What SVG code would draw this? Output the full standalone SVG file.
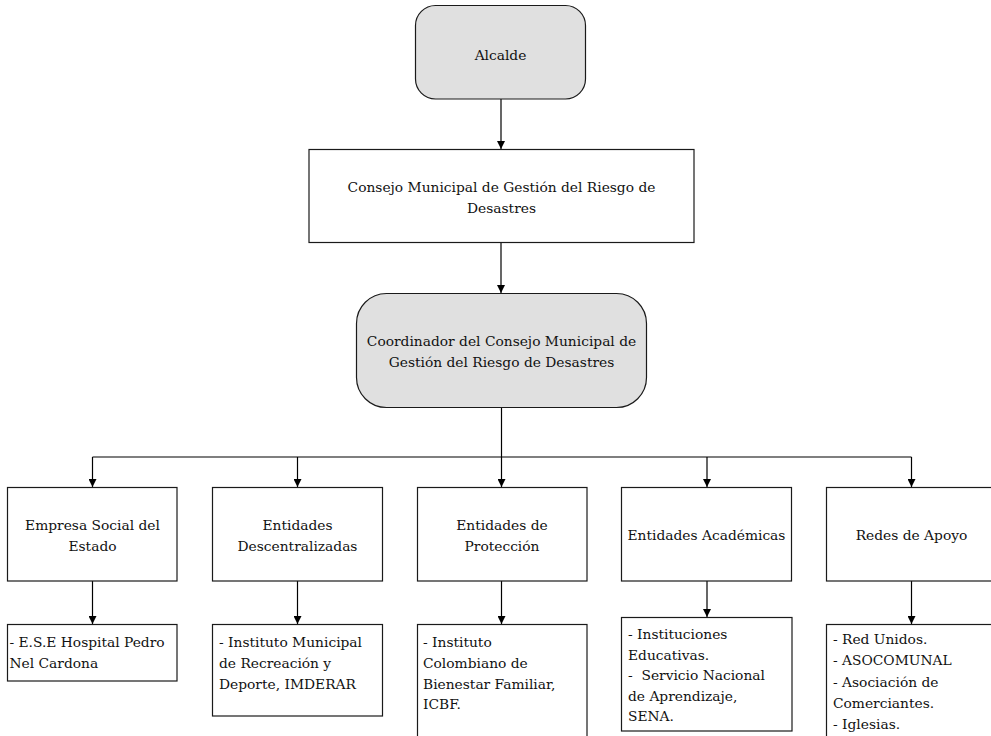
<svg xmlns="http://www.w3.org/2000/svg" width="991" height="736" viewBox="0 0 991 736">
  <defs>
    <marker id="arrow" viewBox="0 0 10 10" refX="10" refY="5" markerWidth="8" markerHeight="8" markerUnits="userSpaceOnUse" orient="auto">
      <path d="M0,0 L10,5 L0,10 Z" fill="#000"/>
    </marker>
  </defs>
  <style>
    .box { fill: #ffffff; stroke: #1a1a1a; stroke-width: 1.2; }
    .head { fill: #e0e0e0; stroke: #1a1a1a; stroke-width: 1.2; }
    text { font-family: "DejaVu Serif", serif; font-size: 13.8px; fill: #111; }
    .c { text-anchor: middle; }
    .pre { white-space: pre; }
    .link { fill: none; stroke: #000; stroke-width: 1.2; }
  </style>
  <rect width="991" height="736" fill="#ffffff"/>

  <!-- connectors -->
  <g id="connectors">
    <line class="link" x1="501" y1="99" x2="501" y2="149" marker-end="url(#arrow)"/>
    <line class="link" x1="501" y1="243" x2="501" y2="293" marker-end="url(#arrow)"/>
    <line class="link" x1="501.5" y1="408" x2="501.5" y2="457"/>
    <line class="link" x1="92.5" y1="457" x2="911.5" y2="457"/>
    <line class="link" x1="92.5" y1="457" x2="92.5" y2="487" marker-end="url(#arrow)"/>
    <line class="link" x1="297.5" y1="457" x2="297.5" y2="487" marker-end="url(#arrow)"/>
    <line class="link" x1="501.5" y1="457" x2="501.5" y2="487" marker-end="url(#arrow)"/>
    <line class="link" x1="707" y1="457" x2="707" y2="487" marker-end="url(#arrow)"/>
    <line class="link" x1="911.5" y1="457" x2="911.5" y2="487" marker-end="url(#arrow)"/>
    <line class="link" x1="92.5" y1="581" x2="92.5" y2="624" marker-end="url(#arrow)"/>
    <line class="link" x1="297.5" y1="581" x2="297.5" y2="624" marker-end="url(#arrow)"/>
    <line class="link" x1="501.5" y1="581" x2="501.5" y2="624" marker-end="url(#arrow)"/>
    <line class="link" x1="707" y1="581" x2="707" y2="617" marker-end="url(#arrow)"/>
    <line class="link" x1="911.5" y1="581" x2="911.5" y2="624" marker-end="url(#arrow)"/>
  </g>

  <!-- top of the hierarchy -->
  <g id="alcalde">
    <rect class="head" x="415.5" y="5.5" width="170" height="93.5" rx="20" ry="20"/>
    <text class="c" x="500.5" y="59.5">Alcalde</text>
  </g>

  <g id="consejo">
    <rect class="box" x="309" y="149.5" width="385" height="93"/>
    <text class="c" x="501.5" y="191.5">Consejo Municipal de Gestión del Riesgo de</text>
    <text class="c" x="501.5" y="212.5">Desastres</text>
  </g>

  <g id="coordinador">
    <rect class="head" x="356.5" y="293.5" width="290" height="114" rx="30" ry="30"/>
    <text class="c" x="501.5" y="345.5">Coordinador del Consejo Municipal de</text>
    <text class="c" x="501.5" y="366.5">Gestión del Riesgo de Desastres</text>
  </g>

  <!-- entity groups -->
  <g id="empresa-social">
    <rect class="box" x="7.5" y="487.5" width="169.5" height="93.5"/>
    <text class="c" x="92.5" y="529.5">Empresa Social del</text>
    <text class="c" x="92.5" y="550.5">Estado</text>
  </g>

  <g id="entidades-descentralizadas">
    <rect class="box" x="212.5" y="487.5" width="170" height="93.5"/>
    <text class="c" x="297.5" y="529.5">Entidades</text>
    <text class="c" x="297.5" y="550.5">Descentralizadas</text>
  </g>

  <g id="entidades-proteccion">
    <rect class="box" x="417.5" y="487.5" width="169.5" height="93.5"/>
    <text class="c" x="502" y="529.5">Entidades de</text>
    <text class="c" x="502" y="550.5">Protección</text>
  </g>

  <g id="entidades-academicas">
    <rect class="box" x="621.5" y="487.5" width="170" height="93.5"/>
    <text class="c" x="706.5" y="540">Entidades Académicas</text>
  </g>

  <g id="redes-apoyo">
    <rect class="box" x="826.5" y="487.5" width="170" height="93.5"/>
    <text class="c" x="911.5" y="540">Redes de Apoyo</text>
  </g>

  <!-- member lists -->
  <g id="ese-hospital">
    <rect class="box" x="7.5" y="624.5" width="169.5" height="56.5"/>
    <text x="9.5" y="647">- E.S.E Hospital Pedro</text>
    <text x="9.5" y="668">Nel Cardona</text>
  </g>

  <g id="imderar">
    <rect class="box" x="212.5" y="624.5" width="170" height="91.5"/>
    <text x="219" y="646.5">- Instituto Municipal</text>
    <text x="219" y="667.5">de Recreación y</text>
    <text x="219" y="688.5">Deporte, IMDERAR</text>
  </g>

  <g id="icbf">
    <rect class="box" x="417.5" y="624.5" width="169.5" height="130"/>
    <text x="423" y="646.5">- Instituto</text>
    <text x="423" y="667.5">Colombiano de</text>
    <text x="423" y="688.5">Bienestar Familiar,</text>
    <text x="423" y="709">ICBF.</text>
  </g>

  <g id="academicas-lista">
    <rect class="box" x="621.5" y="617.5" width="170.5" height="113.5"/>
    <text x="628" y="638.5">- Instituciones</text>
    <text x="628" y="659.5">Educativas.</text>
    <text class="pre" x="628" y="680">-  Servicio Nacional</text>
    <text x="628" y="700.5">de Aprendizaje,</text>
    <text x="628" y="721">SENA.</text>
  </g>

  <g id="redes-lista">
    <rect class="box" x="826.5" y="624.5" width="170" height="130"/>
    <text x="833" y="643.5">- Red Unidos.</text>
    <text x="833" y="665">- ASOCOMUNAL</text>
    <text x="833" y="686.5">- Asociación de</text>
    <text x="833" y="707.5">Comerciantes.</text>
    <text x="833" y="728.5">- Iglesias.</text>
  </g>
</svg>
